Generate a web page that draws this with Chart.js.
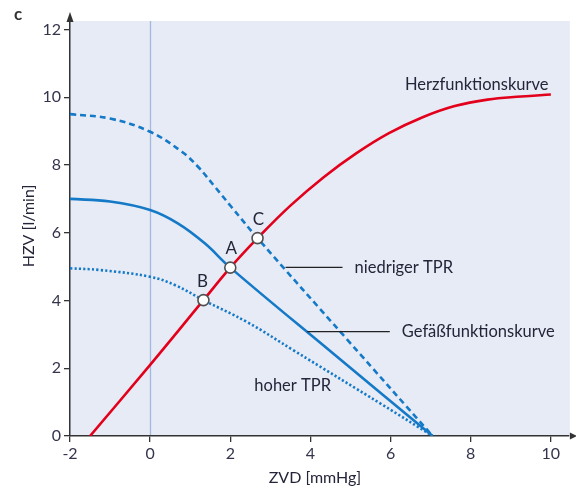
<!DOCTYPE html>
<html>
<head>
<meta charset="utf-8">
<script src="https://cdn.jsdelivr.net/npm/chart.js@4.4.1/dist/chart.umd.min.js"></script>
<style>
  html, body { margin: 0; padding: 0; background: #fff; }
  #wrap { width: 576px; height: 491px; position: relative; }
</style>
</head>
<body>
<div id="wrap"><canvas id="kurven"></canvas></div>
<script>
// Achsen
const zvdTicks = [-2, 0, 2, 4, 6, 8, 10];
const hzvTicks = [0, 2, 4, 6, 8, 10, 12];

// Herzfunktionskurve (rot)
const herzZvd = [-1.5, 0, 1.33, 2.0, 2.68, 3.5, 4.33, 5.15, 5.96, 6.8, 7.6, 8.42, 9.26, 10.0];
const herzHzv = [0, 2.1, 4.01, 4.97, 5.84, 6.8, 7.64, 8.35, 8.94, 9.41, 9.74, 9.93, 10.02, 10.08];

// Gefäßfunktionskurve (normal, durchgezogen)
const gefZvd = [-2, -1, 0, 0.7, 1.37, 2.0, 4.5, 7.05];
const gefHzv = [7.0, 6.92, 6.67, 6.27, 5.68, 4.97, 2.5, 0];

// niedriger TPR (gestrichelt)
const niedrigZvd = [-2, -1, 0, 0.79, 1.2, 1.62, 2.03, 2.68, 4.9, 7.05];
const niedrigHzv = [9.5, 9.37, 8.98, 8.39, 7.94, 7.35, 6.76, 5.84, 2.87, 0];

// hoher TPR (gepunktet)
const hochZvd = [-2, -1.26, 0, 0.63, 1.33, 2.44, 3.59, 5.8, 7.05];
const hochHzv = [4.95, 4.9, 4.7, 4.45, 4.01, 3.35, 2.52, 0.92, 0];

// Arbeitspunkte (Schnittpunkte)
const punktNamen = ['A', 'B', 'C'];
const punktZvd = [2.0, 1.33, 2.68];
const punktHzv = [4.97, 4.01, 5.84];

const toXY = (xs, ys) => xs.map((x, i) => ({ x: x, y: ys[i] }));

const textColor = '#25253a';
const tickColor = '#34344c';
const axisColor = '#333333';
const blue = '#1479c6';
const red = '#e3001b';

// Hintergrund, Nulllinie und Pfeile
const plotBackground = {
  id: 'plotBackground',
  beforeDraw(chart) {
    const { ctx, chartArea: a, scales } = chart;
    ctx.save();
    ctx.fillStyle = '#e7ebf6';
    ctx.fillRect(a.left, a.top, a.right - a.left + 1, a.bottom - a.top);
    const x0 = Math.round(scales.x.getPixelForValue(0)) + 0.5;
    ctx.strokeStyle = '#9fb9e2';
    ctx.lineWidth = 1.3;
    ctx.beginPath();
    ctx.moveTo(x0, a.top);
    ctx.lineTo(x0, a.bottom);
    ctx.stroke();
    ctx.restore();
  },
  afterDraw(chart) {
    const { ctx, chartArea: a } = chart;
    ctx.save();
    ctx.fillStyle = axisColor;
    ctx.strokeStyle = axisColor;
    ctx.lineWidth = 1.5;
    // y-Pfeil
    ctx.beginPath();
    ctx.moveTo(a.left, a.top);
    ctx.lineTo(a.left, a.top - 4);
    ctx.stroke();
    ctx.beginPath();
    ctx.moveTo(a.left, a.top - 9);
    ctx.lineTo(a.left - 3.5, a.top + 1);
    ctx.lineTo(a.left + 3.5, a.top + 1);
    ctx.closePath();
    ctx.fill();
    // x-Pfeil
    ctx.beginPath();
    ctx.moveTo(a.right + 1, a.bottom - 3.5);
    ctx.lineTo(a.right + 8, a.bottom);
    ctx.lineTo(a.right + 1, a.bottom + 3.5);
    ctx.closePath();
    ctx.fill();
    ctx.restore();
  }
};

// Beschriftungen im Diagramm
const beschriftung = {
  id: 'beschriftung',
  afterDatasetsDraw(chart) {
    const { ctx, scales } = chart;
    const px = v => scales.x.getPixelForValue(v);
    const py = v => scales.y.getPixelForValue(v);
    ctx.save();
    ctx.fillStyle = textColor;
    ctx.font = '16.5px Lato';
    ctx.textBaseline = 'middle';
    ctx.textAlign = 'left';

    ctx.fillText('Herzfunktionskurve', px(6.36), py(10.38));
    ctx.fillText('niedriger TPR', px(5.1), py(4.98));
    ctx.fillText('Gefäßfunktionskurve', px(6.28), py(3.08));
    ctx.fillText('hoher TPR', px(2.6), py(1.5));

    // Hinweislinien
    ctx.strokeStyle = '#222';
    ctx.lineWidth = 1.2;
    ctx.beginPath();
    ctx.moveTo(px(3.38), py(4.98));
    ctx.lineTo(px(4.8), py(4.98));
    ctx.moveTo(px(3.92), py(3.08));
    ctx.lineTo(px(5.98), py(3.08));
    ctx.stroke();

    // Punktbezeichnungen
    ctx.textAlign = 'center';
    ctx.font = '17px Lato';
    punktNamen.forEach((n, i) => {
      ctx.fillText(n, px(punktZvd[i]) + (i === 1 ? -1 : 1), py(punktHzv[i]) - 19);
    });

    // Achsentitel
    ctx.font = '16px Lato';
    ctx.fillText('ZVD [mmHg]', 315, 478);
    ctx.save();
    ctx.translate(29, 226);
    ctx.rotate(-Math.PI / 2);
    ctx.fillText('HZV [l/min]', 0, 0);
    ctx.restore();

    ctx.font = 'bold 17px Lato';
    ctx.fillStyle = '#333';
    ctx.fillText('c', 18, 15);
    ctx.restore();
  }
};

const ctx = document.getElementById('kurven').getContext('2d');
new Chart(ctx, {
  type: 'scatter',
  data: {
    datasets: [
      {
        label: 'Arbeitspunkte',
        data: toXY(punktZvd, punktHzv),
        showLine: false,
        pointRadius: 5.5,
        pointBackgroundColor: '#ffffff',
        pointBorderColor: '#505050',
        pointBorderWidth: 1.6
      },
      {
        label: 'Herzfunktionskurve',
        data: toXY(herzZvd, herzHzv),
        showLine: true,
        borderColor: red,
        borderWidth: 2.6,
        pointRadius: 0,
        tension: 0.4
      },
      {
        label: 'Gefäßfunktionskurve',
        data: toXY(gefZvd, gefHzv),
        showLine: true,
        borderColor: blue,
        borderWidth: 2.6,
        pointRadius: 0,
        tension: 0.4
      },
      {
        label: 'niedriger TPR',
        data: toXY(niedrigZvd, niedrigHzv),
        showLine: true,
        borderColor: blue,
        borderWidth: 2.6,
        borderDash: [6, 4],
        pointRadius: 0,
        tension: 0.4
      },
      {
        label: 'hoher TPR',
        data: toXY(hochZvd, hochHzv),
        showLine: true,
        borderColor: blue,
        borderWidth: 2.6,
        borderDash: [2.2, 2.2],
        pointRadius: 0,
        tension: 0.4
      }
    ]
  },
  options: {
    responsive: true,
    maintainAspectRatio: false,
    animation: false,
    layout: { padding: { top: 21, right: 1, left: 0, bottom: 0 } },
    plugins: {
      legend: { display: false },
      tooltip: { enabled: false }
    },
    scales: {
      x: {
        type: 'linear',
        min: -2,
        max: 10.45,
        afterBuildTicks: s => { s.ticks = zvdTicks.map(v => ({ value: v })); },
        afterFit: s => { s.height = 55; },
        border: { color: axisColor, width: 1.5 },
        grid: { drawOnChartArea: false, drawTicks: true, tickLength: 6, color: axisColor, lineWidth: 1.3 },
        ticks: { color: tickColor, font: { family: 'Lato', size: 16 }, padding: 2 }
      },
      y: {
        type: 'linear',
        min: 0,
        max: 12.25,
        afterBuildTicks: s => { s.ticks = hzvTicks.map(v => ({ value: v })); },
        afterFit: s => { s.width = 70; },
        border: { color: axisColor, width: 1.5 },
        grid: { drawOnChartArea: false, drawTicks: true, tickLength: 6, color: axisColor, lineWidth: 1.3 },
        ticks: { color: tickColor, font: { family: 'Lato', size: 16 }, padding: 3 }
      }
    }
  },
  plugins: [plotBackground, beschriftung]
});
</script>
</body>
</html>
